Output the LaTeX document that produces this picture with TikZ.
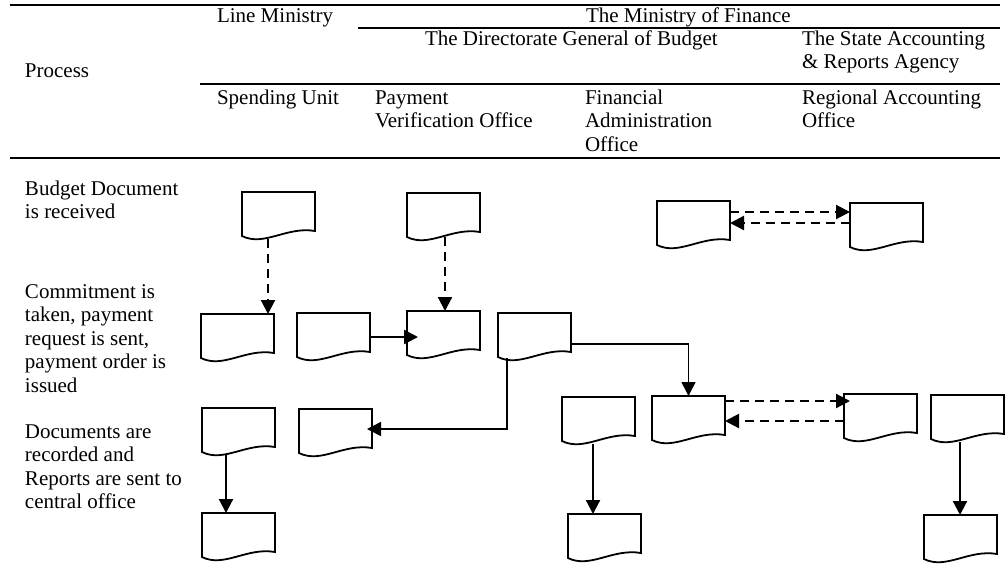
\documentclass[tikz,border=0pt]{standalone}
\usepackage{fontspec}
\setmainfont{Liberation Serif}
\usetikzlibrary{arrows.meta}
% multi-line left-aligned text whose baseline is that of its first line
\newcommand\txtlines[1]{\begin{tabular}[t]{@{}l@{}}#1\end{tabular}}
\begin{document}
\begin{tikzpicture}[x=0.5pt,y=-0.5pt,
  every node/.style={font=\fontsize{10.5}{11.75}\selectfont, inner sep=0pt, outer sep=0pt},
  txt/.style={anchor=base west},
  rule/.style={line width=0.9pt},
  thickrule/.style={line width=1.3pt},
  docbox/.style={minimum width=36.5pt, minimum height=23.5pt, anchor=north west},
  docline/.style={line width=0.9pt, line join=miter},
  flow/.style={line width=1.1pt, -{Triangle[length=7pt,width=7pt]}},
  thinflow/.style={line width=0.8pt, -{Triangle[length=7pt,width=7pt]}},
  dflow/.style={flow, dash pattern=on 4.5pt off 3pt},
]
\useasboundingbox (0,0) rectangle (1007,570);

% table rules
\draw[rule] (10,5) -- (1000,5);
\draw[rule] (358,28) -- (1000,28);
\draw[rule] (200,84) -- (1000,84);
\draw[thickrule] (10,158) -- (1000,158);

% header
\node[txt] (hd-process) at (25,77) {Process};
\node[txt] (hd-line) at (217,22) {Line Ministry};
\node[txt] (hd-mof) at (586,22) {The Ministry of Finance};
\node[txt] (hd-dgb) at (425,45) {The Directorate General of Budget};
\node[txt] (hd-sara) at (802,45) {\txtlines{The State Accounting\\\& Reports Agency}};
\node[txt] (hd-su) at (217,104) {Spending Unit};
\node[txt] (hd-pvo) at (375,104) {\txtlines{Payment\\Verification Office}};
\node[txt] (hd-fao) at (585,104) {\txtlines{Financial\\Administration\\Office}};
\node[txt] (hd-rao) at (802,104) {\txtlines{Regional Accounting\\Office}};

% process steps
\node[txt] (st-budget) at (25,195) {\txtlines{Budget Document\\is received}};
\node[txt] (st-commit) at (25,298) {\txtlines{Commitment is\\taken, payment\\request is sent,\\payment order is\\issued}};
\node[txt] (st-record) at (25,438) {\txtlines{Documents are\\recorded and\\Reports are sent to\\central office}};

% documents
\node[docbox] (su-budget) at (242,192) {};
\node[docbox] (pv-budget) at (407,193) {};
\node[docbox] (su-commit) at (201,314) {};
\node[docbox] (su-request) at (297,313) {};
\node[docbox] (pv-order) at (407,311) {};
\node[docbox] (pv-issue) at (498,313) {};
\node[docbox] (fa-budget) at (657,201) {};
\node[docbox] (ra-budget) at (850,203) {};
\node[docbox] (fa-record) at (562,397) {};
\node[docbox] (fa-recv) at (652,396) {};
\node[docbox] (ra-recv) at (844,394) {};
\node[docbox] (ra-record) at (931,395) {};
\node[docbox] (su-record) at (202,408) {};
\node[docbox] (su-receipt) at (299,409) {};
\node[docbox] (su-report) at (202,513) {};
\node[docbox] (fa-report) at (568,514) {};
\node[docbox] (ra-report) at (924,515) {};

\foreach \n in {su-budget,pv-budget,su-commit,su-request,pv-order,pv-issue,
  fa-budget,ra-budget,fa-record,fa-recv,ra-recv,ra-record,su-record,su-receipt,
  su-report,fa-report,ra-report}
  \draw[docline] (\n.north west) -- (\n.north east) -- ([yshift=-19.5pt]\n.north east)
    .. controls +(-14pt,2.5pt) and +(11pt,-5.5pt) .. ([yshift=1.5pt]\n.south west) -- cycle;

% budget documents passed down
\coordinate (a1) at ([xshift=13pt]su-budget.south west);
\draw[dflow] (a1) -- (a1 |- su-commit.north);
\coordinate (b1) at ([shift={(19pt,1.5pt)}]pv-budget.south west);
\draw[dflow] (b1) -- (b1 |- pv-order.north);

% payment request
\coordinate (d1) at ([yshift=-12pt]su-request.north east);
\coordinate (e1) at ([xshift=5.5pt]pv-order.west);
\draw[flow] (d1) -- (d1 -| e1);

% payment order issued
\coordinate (f1) at ([yshift=-15.5pt]pv-issue.north east);
\draw[thinflow] (f1) -| (fa-recv.north);
\coordinate (f2) at ([shift={(4.5pt,1pt)}]pv-issue.south west);
\coordinate (j1) at ([shift={(-2.5pt,-10pt)}]su-receipt.north east);
\draw[thinflow] (f2) |- (j1);

% exchange between the two offices
\coordinate (g1) at ([yshift=-5.5pt]fa-budget.north east);
\draw[dflow] (g1) -- (g1 -| ra-budget.west);
\coordinate (g2) at ([yshift=-10pt]ra-budget.north west);
\draw[dflow] (g2) -- (g2 -| fa-budget.east);

\coordinate (h1) at ([yshift=-2.5pt]fa-recv.north east);
\coordinate (n0) at ([xshift=3pt]ra-recv.west);
\draw[dflow] (h1) -- (h1 -| n0);
\coordinate (n1) at ([yshift=-13.5pt]ra-recv.north west);
\draw[dflow] (n1) -- (n1 -| fa-recv.east);

% reports
\coordinate (i1) at ([xshift=12pt]su-record.south west);
\draw[flow] (i1) -- (i1 |- su-report.north);
\coordinate (l1) at ([xshift=15.5pt]fa-record.south west);
\draw[flow] (l1) -- (l1 |- fa-report.north);
\coordinate (o1) at ([xshift=14.5pt]ra-record.south west);
\draw[flow] (o1) -- (o1 |- ra-report.north);
\end{tikzpicture}
\end{document}
